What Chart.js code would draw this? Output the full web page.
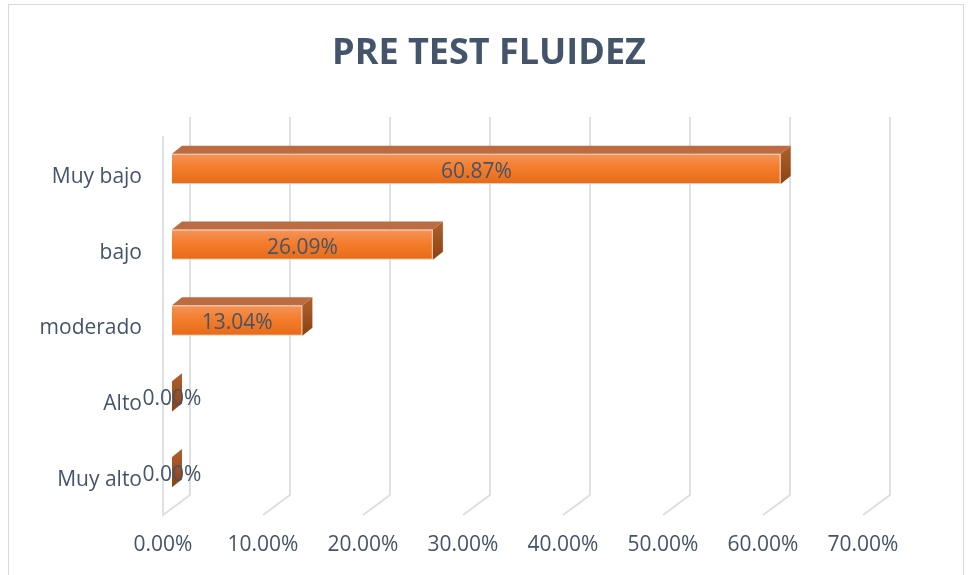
<!DOCTYPE html>
<html>
<head>
<meta charset="utf-8">
<script src="https://cdn.jsdelivr.net/npm/chart.js@4"></script>
<style>
  html, body { margin: 0; padding: 0; background: #fff; }
  #wrap { width: 970px; height: 575px; }
</style>
</head>
<body>
<div id="wrap"><canvas id="fluidezChart" width="970" height="575"></canvas></div>
<script>
// Data
const categories = ["Muy bajo", "bajo", "moderado", "Alto", "Muy alto"];
const percentValues = [60.87, 26.09, 13.04, 0, 0];
const xTicks = [0, 10, 20, 30, 40, 50, 60, 70];
const chartTitle = "PRE TEST FLUIDEZ";

const textColor = "#44546A";
const gridColor = "#DADDE4";
const depthX = 10, depthY = 8; // bar depth offsets

// Slanted gridlines (3D wall + floor)
const wallGrid = {
  id: "wallGrid",
  beforeDatasetsDraw(chart) {
    const { ctx, chartArea, scales } = chart;
    ctx.save();
    ctx.strokeStyle = gridColor;
    ctx.lineWidth = 1.8;
    xTicks.forEach(v => {
      const xf = scales.x.getPixelForValue(v) - 9;
      const xb = xf + 27;
      ctx.beginPath();
      ctx.moveTo(xb, chartArea.top - 14);
      ctx.lineTo(xb, chartArea.bottom - 15);
      ctx.lineTo(xf, chartArea.bottom + 5);
      if (v === 0) ctx.lineTo(xf, chartArea.top + 5);
      ctx.stroke();
    });
    ctx.restore();
  }
};

// Top and side faces + value labels
const barFaces = {
  id: "barFaces",
  afterDatasetsDraw(chart) {
    const { ctx } = chart;
    const meta = chart.getDatasetMeta(0);
    ctx.save();
    meta.data.forEach(bar => {
      const left = bar.base, right = bar.x;
      const top = bar.y - bar.height / 2, bottom = bar.y + bar.height / 2;

      // top face
      ctx.fillStyle = "#BC6C40";
      ctx.beginPath();
      ctx.moveTo(left, top);
      ctx.lineTo(right, top);
      ctx.lineTo(right + depthX, top - depthY);
      ctx.lineTo(left + depthX, top - depthY);
      ctx.closePath();
      ctx.fill();

      // side face
      const g = ctx.createLinearGradient(0, top - depthY, 0, bottom);
      g.addColorStop(0, "#B0602E");
      g.addColorStop(1, "#8C4212");
      ctx.fillStyle = g;
      ctx.beginPath();
      ctx.moveTo(right, top);
      ctx.lineTo(right + depthX, top - depthY);
      ctx.lineTo(right + depthX, bottom - depthY);
      ctx.lineTo(right, bottom);
      ctx.closePath();
      ctx.fill();
    });

    // value labels
    ctx.fillStyle = textColor;
    ctx.font = "21px 'Open Sans'";
    ctx.textAlign = "center";
    ctx.textBaseline = "middle";
    meta.data.forEach((bar, i) => {
      ctx.fillText(percentValues[i].toFixed(2) + "%", (bar.base + bar.x) / 2, bar.y + 3);
    });
    ctx.restore();
  }
};

// Title and outer frame
const frame = {
  id: "frame",
  afterDraw(chart) {
    const { ctx } = chart;
    ctx.save();
    ctx.strokeStyle = "#D9D9D9";
    ctx.lineWidth = 1;
    ctx.strokeRect(8.5, 4.5, 955, 600);
    ctx.fillStyle = textColor;
    ctx.font = "bold 36px 'Open Sans'";
    ctx.textAlign = "center";
    ctx.textBaseline = "middle";
    ctx.fillText(chartTitle, 489, 54);
    ctx.restore();
  }
};

function frontGradient(context) {
  const chart = context.chart;
  if (!chart.chartArea) return "#F07B2A";
  const y = chart.scales.y.getPixelForValue(context.dataIndex);
  const g = chart.ctx.createLinearGradient(0, y - 15, 0, y + 15);
  g.addColorStop(0, "#F4945A");
  g.addColorStop(0.45, "#F47D2C");
  g.addColorStop(1, "#E56B18");
  return g;
}

new Chart(document.getElementById("fluidezChart").getContext("2d"), {
  type: "bar",
  data: {
    labels: categories,
    datasets: [{
      data: percentValues,
      backgroundColor: frontGradient,
      borderColor: "#F9C7A6",
      borderWidth: 1,
      categoryPercentage: 0.8,
      barPercentage: 0.5
    }]
  },
  options: {
    indexAxis: "y",
    responsive: false,
    animation: false,
    layout: { padding: { left: 0, right: 98, top: 131, bottom: 0 } },
    plugins: {
      legend: { display: false },
      tooltip: { enabled: false },
      title: { display: false }
    },
    scales: {
      x: {
        min: 0,
        max: 70,
        afterFit: s => { s.height = 65; },
        afterBuildTicks: s => { s.ticks = xTicks.map(v => ({ value: v })); },
        grid: { display: false, drawTicks: false },
        border: { display: false },
        ticks: {
          color: textColor,
          font: { family: "'Open Sans'", size: 21 },
          padding: 22,
          labelOffset: -9,
          maxRotation: 0,
          callback: v => Number(v).toFixed(2) + "%"
        }
      },
      y: {
        afterFit: s => { s.width = 172; },
        grid: { display: false, drawTicks: false },
        border: { display: false },
        ticks: {
          color: textColor,
          font: { family: "'Open Sans'", size: 21 },
          padding: 30,
          labelOffset: 8
        }
      }
    }
  },
  plugins: [wallGrid, barFaces, frame]
});
</script>
</body>
</html>
